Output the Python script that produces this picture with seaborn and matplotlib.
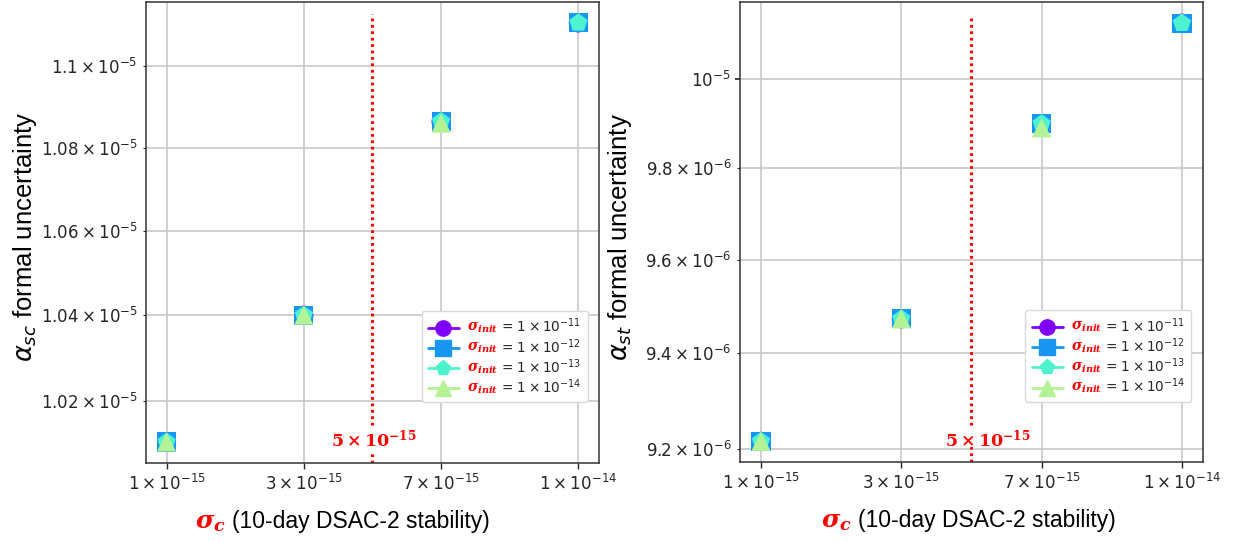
import numpy as np
import pandas as pd
import matplotlib
matplotlib.use("Agg")
import matplotlib.pyplot as plt
import matplotlib.transforms as mtransforms
from matplotlib.lines import Line2D
import seaborn as sns

# ---- data ----
# x categories are equally spaced (categorical), labelled in sci notation
stability_labels = [r"$1\times10^{-15}$", r"$3\times10^{-15}$",
                    r"$7\times10^{-15}$", r"$1\times10^{-14}$"]
init_names = ["1e-11", "1e-12", "1e-13", "1e-14"]
init_labels = [r"$1\times10^{-11}$", r"$1\times10^{-12}$",
               r"$1\times10^{-13}$", r"$1\times10^{-14}$"]
init_markers = ["o", "s", "p", "^"]
init_colors = ["#8000ff", "#1996f3", "#4df3ce", "#b3f396"]  # rainbow cmap

# alpha_sc formal uncertainty (left)
alpha_sc_11 = [1.0107e-5, 1.0400e-5, 1.0864e-5, 1.1108e-5]
alpha_sc_12 = [1.0107e-5, 1.0400e-5, 1.0864e-5, 1.1108e-5]
alpha_sc_13 = [1.0107e-5, 1.0400e-5, 1.0864e-5, 1.1108e-5]
alpha_sc_14 = [1.0107e-5, 1.0400e-5, 1.0860e-5, np.nan]

# alpha_st formal uncertainty (right)
alpha_st_11 = [9.215e-6, 9.473e-6, 9.899e-6, 1.0126e-5]
alpha_st_12 = [9.215e-6, 9.473e-6, 9.899e-6, 1.0126e-5]
alpha_st_13 = [9.215e-6, 9.473e-6, 9.899e-6, 1.0126e-5]
alpha_st_14 = [9.215e-6, 9.473e-6, 9.890e-6, np.nan]

threshold_label = r"$\mathrm{5\times10^{-15}}$"


def long_form(series_list):
    rows = []
    for name, vals in zip(init_names, series_list):
        for lab, v in zip(stability_labels, vals):
            if not np.isnan(v):
                rows.append({"stability": lab, "init": name, "value": v})
    return pd.DataFrame(rows)


sc_df = long_form([alpha_sc_11, alpha_sc_12, alpha_sc_13, alpha_sc_14])
st_df = long_form([alpha_st_11, alpha_st_12, alpha_st_13, alpha_st_14])

# ---- style ----
sns.set_theme(style="whitegrid", rc={
    "axes.edgecolor": "0.2",
    "axes.linewidth": 1.1,
    "grid.color": "#c4c4c4",
    "grid.linewidth": 1.1,
    "xtick.bottom": True,
    "ytick.left": True,
    "xtick.major.size": 4.5,
    "ytick.major.size": 3.5,
    "ytick.minor.size": 2.5,
    "xtick.major.width": 1.0,
    "ytick.minor.width": 0.8,
    "xtick.color": "0.15",
    "ytick.color": "0.15",
    "xtick.labelsize": 12,
    "ytick.labelsize": 12,
})
plt.rcParams["font.family"] = ["DejaVu Sans"]
plt.rcParams["mathtext.fontset"] = "dejavusans"
# the red annotations use a bold serif through the custom math font
plt.rcParams["mathtext.bf"] = "DejaVu Serif:italic:bold"
plt.rcParams["mathtext.rm"] = "DejaVu Serif:bold"

fig = plt.figure(figsize=(12.37, 5.42), dpi=100)
ax_sc = fig.add_axes([0.1180, 0.1458, 0.3662, 0.8506])
ax_st = fig.add_axes([0.5982, 0.1471, 0.3743, 0.8487])

# ax, data, ylabel, threshold text x, sigma_c x, xlabel x, ylabel x, line gap
panels = [
    (ax_sc, sc_df, r"$\alpha_{sc}$ formal uncertainty", 1.51, 0.108, 0.189, -0.236, (0.024, 0.082)),
    (ax_st, st_df, r"$\alpha_{st}$ formal uncertainty", 1.615, 0.175, 0.255, -0.229, (0.035, 0.081)),
]

for ax, df, ylab, txt_x, sig_x, lab_x, ylab_x, gap in panels:
    sns.scatterplot(data=df, x="stability", y="value", hue="init", style="init",
                    hue_order=init_names, style_order=init_names,
                    palette=dict(zip(init_names, init_colors)),
                    markers=dict(zip(init_names, init_markers)),
                    s=190, linewidth=0, legend=False, zorder=3, ax=ax)
    ax.set_yscale("log")
    ax.grid(True, which="both")
    ax.set_axisbelow(True)
    for sp in ax.spines.values():
        sp.set_visible(True)

    # threshold line (broken where the label sits) + label
    ax.axvline(1.5, ymin=0, ymax=gap[0], color="red", lw=2.2,
               ls=(0, (0.9, 1.2)), zorder=2)
    ax.axvline(1.5, ymin=gap[1], ymax=0.973, color="red", lw=2.2,
               ls=(0, (0.9, 1.2)), zorder=2)
    trans = mtransforms.blended_transform_factory(ax.transData, ax.transAxes)
    ax.text(txt_x, 0.05, threshold_label, transform=trans, color="red",
            fontsize=12.5, ha="center", va="center", math_fontfamily="custom",
            zorder=4)

    # labels
    ax.set_ylabel(ylab, fontsize=18.5, family="Liberation Sans", color="black")
    ax.yaxis.set_label_coords(ylab_x, 0.49)
    ax.set_xlabel("(10-day DSAC-2 stability)", fontsize=16.5,
                  family="Liberation Sans", color="black", ha="left", va="center")
    ax.xaxis.set_label_coords(lab_x, -0.127)
    ax.text(sig_x, -0.127, r"$\mathbf{\sigma_c}$", transform=ax.transAxes,
            color="red", fontsize=18, ha="left", va="center",
            math_fontfamily="custom")

    # legend; the red sigma_init sits in the gap between handle and label
    handles = [Line2D([0], [0], color=c, marker=m, markersize=11, lw=2)
               for c, m in zip(init_colors, init_markers)]
    labels = ["= " + t for t in init_labels]
    leg = ax.legend(handles, labels, loc="lower right",
                    bbox_to_anchor=(0.975, 0.132), borderaxespad=0,
                    fontsize=9.8, handlelength=2.3, handletextpad=3.1,
                    labelspacing=0.12, borderpad=0.45, framealpha=1,
                    edgecolor="0.85")
    for t in leg.get_texts():
        ax.annotate(r"$\mathbf{\sigma_{init}}$", xy=(0, 0.4), xycoords=t,
                    xytext=(-2, 0), textcoords="offset points",
                    ha="right", va="center", color="red", fontsize=10,
                    math_fontfamily="custom", zorder=10)

fig.savefig("out.png", dpi=100)
